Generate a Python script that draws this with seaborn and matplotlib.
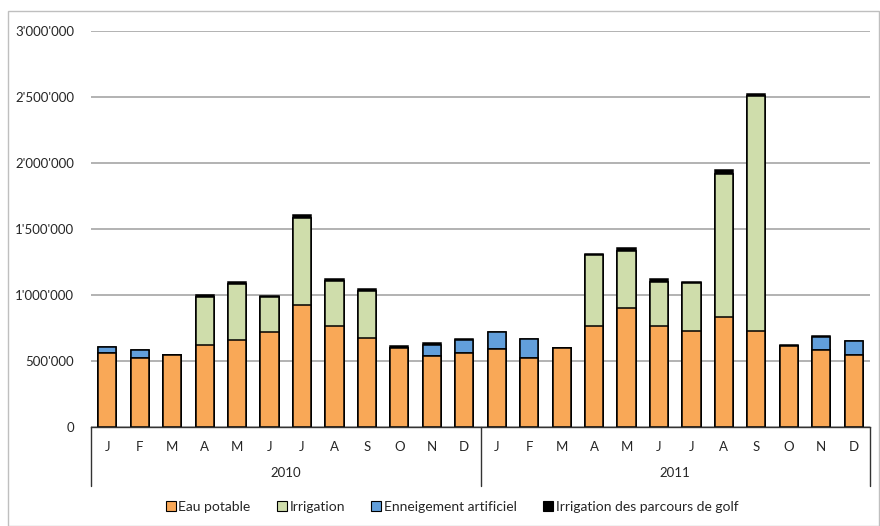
# Consommation d'eau mensuelle 2010-2011, barres empilees
import matplotlib
matplotlib.use('Agg')
import matplotlib.pyplot as plt
import matplotlib.patches as mpatches
import matplotlib.transforms as mtransforms
import seaborn as sns
import pandas as pd
import numpy as np

mois = ['J', 'F', 'M', 'A', 'M', 'J', 'J', 'A', 'S', 'O', 'N', 'D']
annees = ['2010', '2011']

eau_potable = [557000, 524000, 546000, 625000, 660000, 718000, 921000, 764000, 673000, 602000, 536000, 559000,
               592000, 526000, 597000, 764000, 900000, 764000, 729000, 832000, 729000, 615000, 584000, 546000]
irrigation = [0, 0, 0, 361000, 425000, 266000, 660000, 344000, 357000, 0, 0, 0,
              0, 0, 0, 536000, 433000, 334000, 359000, 1088000, 1782000, 0, 0, 0]
enneigement = [48000, 58000, 0, 0, 0, 0, 0, 0, 0, 0, 89000, 101000,
               126000, 137000, 0, 0, 0, 0, 0, 0, 0, 0, 97000, 104000]
golf = [4000, 4000, 3000, 12000, 12000, 12000, 24000, 12000, 13000, 12000, 10000, 4000,
        3000, 3000, 3000, 12000, 24000, 22000, 12000, 24000, 10000, 10000, 12000, 3000]

series = ['Eau potable', 'Irrigation', 'Enneigement artificiel', 'Irrigation des parcours de golf']
couleurs = ['#F9A857', '#CFDDAB', '#629FDB', '#000000']

df = pd.DataFrame({
    'pos': np.arange(24),
    'Eau potable': eau_potable,
    'Irrigation': irrigation,
    'Enneigement artificiel': enneigement,
    'Irrigation des parcours de golf': golf,
})
# sommes cumulees pour empiler
cumul = df[series].cumsum(axis=1)

sns.set_style('white')
plt.rcParams['font.family'] = ['Lato', 'DejaVu Sans']

fig = plt.figure(figsize=(8.8, 5.26), dpi=100)
ax = fig.add_axes([91 / 880, 1 - 427 / 526, (870 - 91) / 880, (427 - 31) / 526])

# dessiner du haut vers le bas pour superposer
for serie, couleur in reversed(list(zip(series, couleurs))):
    sns.barplot(x=df['pos'], y=cumul[serie], color=couleur, width=0.56,
                edgecolor='black', linewidth=1.1, saturation=1, ax=ax)

ax.set_xlim(-0.5, 23.5)
ax.set_ylim(0, 3000000)
ax.set_yticks(np.arange(0, 3000001, 500000))
ax.set_yticklabels([f"{int(v):,}".replace(',', "'") for v in np.arange(0, 3000001, 500000)], fontsize=9.5)
ax.yaxis.grid(True, color='#A6A6A6', linewidth=1.2)
ax.set_axisbelow(True)
ax.tick_params(axis='y', length=0, pad=12)
ax.set_xticks(np.arange(24))
ax.set_xticklabels(mois * 2, fontsize=9.5)
ax.tick_params(axis='x', length=0, pad=10)
ax.set_xlabel('')
ax.set_ylabel('')
for s in ['left', 'right', 'top']:
    ax.spines[s].set_visible(False)
ax.spines['bottom'].set_color('#333333')
ax.spines['bottom'].set_linewidth(1)

# axe des categories a deux niveaux
trans = mtransforms.blended_transform_factory(ax.transData, ax.transAxes)
for x in [-0.5, 11.5, 23.5]:
    ax.plot([x, x], [0, -0.148], color='#333333', linewidth=1, transform=trans, clip_on=False)
for i, annee in enumerate(annees):
    ax.text(i * 12 + 5.5, -0.117, annee, transform=trans, ha='center', va='center', fontsize=9.5)

handles = [mpatches.Patch(facecolor=c, edgecolor='black', linewidth=0.8, label=s)
           for s, c in zip(series, couleurs)]
fig.legend(handles=handles, loc='center', bbox_to_anchor=(452 / 880, 1 - 507 / 526), ncol=4,
           frameon=False, fontsize=10, handlelength=0.7, handleheight=0.7,
           handletextpad=0.2, columnspacing=1.9)

# cadre du graphique
fig.patches.append(mpatches.Rectangle((8 / 880, 0.5 / 526), 871 / 880, 515 / 526,
                                      transform=fig.transFigure, fill=False,
                                      edgecolor='#BFBFBF', linewidth=1))

fig.savefig('out.png', dpi=100)
